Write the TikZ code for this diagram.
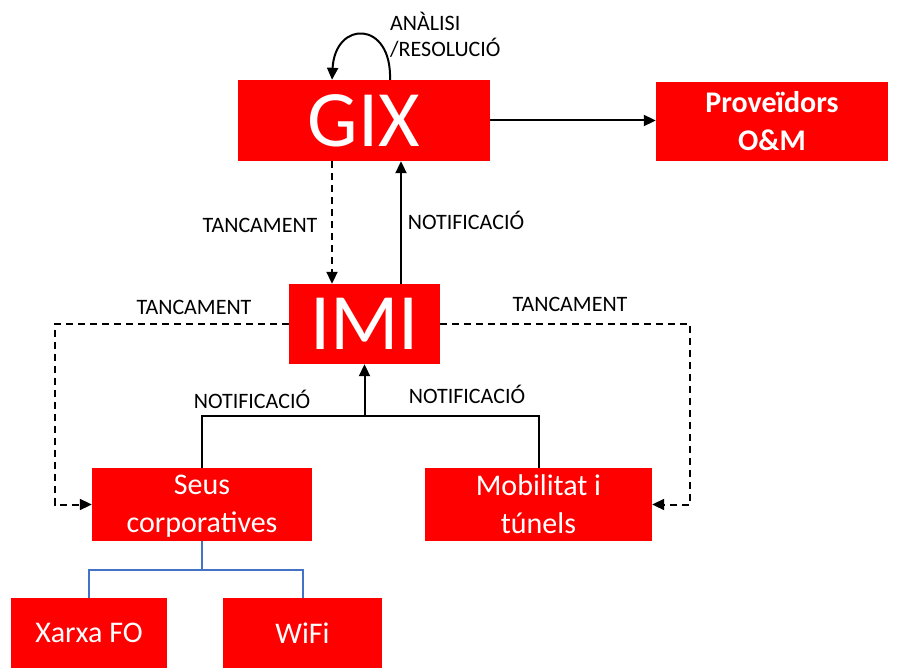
\documentclass[tikz,border=0pt]{standalone}
\usepackage{fontspec}
\setmainfont{Carlito}
\usetikzlibrary{arrows.meta}
\definecolor{boxred}{RGB}{255,0,0}
\definecolor{treeblue}{RGB}{68,114,196}

\begin{document}
\begin{tikzpicture}[x=1pt,y=-1pt,>={Triangle[length=12pt,width=11pt]},
    box/.style={fill=boxred,text=white,inner sep=0pt,align=center,font=\fontsize{30}{38}\selectfont},
    bigbox/.style={box,font=\fontsize{80}{80}\selectfont},
    lbl/.style={font=\fontsize{22}{26}\selectfont,inner sep=0pt},
    arr/.style={->,line width=2pt},
    dasharr/.style={arr,dash pattern=on 7pt off 5pt},
    tree/.style={draw=treeblue,line width=2pt}]
    \useasboundingbox (0,0) rectangle (899,668);
    \node[bigbox,minimum width=252pt,minimum height=81pt] (gix) at (364,120.5) {GIX};
    \node[box,minimum width=232pt,minimum height=79pt,font=\fontsize{30}{38}\selectfont\bfseries] (prov) at (772,121.5) {Proveïdors\\O\&M};
    \node[bigbox,minimum width=151pt,minimum height=80pt] (imi) at (364.5,324) {IMI};
    \node[box,minimum width=220pt,minimum height=73pt] (seus) at (202,504.5) {\raisebox{-2pt}[\height][\depth]{Seus}\\\raisebox{-2pt}[\height][\depth]{corporatives}};
    \node[box,minimum width=227pt,minimum height=73pt] (mob) at (538.5,504.5) {Mobilitat i\\túnels};
    \node[box,minimum width=156pt,minimum height=70pt] (xarxa) at (89,633) {Xarxa FO};
    \node[box,minimum width=159pt,minimum height=70pt] (wifi) at (302.5,633) {WiFi};
    \coordinate (join) at (364.5,416);
    % labels
    \node[lbl,anchor=west,align=left] (analisi) at (390,35) {ANÀLISI\\/RESOLUCIÓ};
    \node[lbl] (tancA) at (260,225) {TANCAMENT};
    \node[lbl] (notifA) at (466,220) {NOTIFICACIÓ};
    \node[lbl] (tancB) at (194,307) {TANCAMENT};
    \node[lbl] (tancC) at (570,304) {TANCAMENT};
    \node[lbl] (notifB) at (252,399) {NOTIFICACIÓ};
    \node[lbl] (notifC) at (467,394) {NOTIFICACIÓ};
    % connectors
    \draw[arr] ([xshift=26pt]gix.north) .. controls ([xshift=28pt]gix.north |- 0,20) and ([xshift=-29pt]gix.north |- 0,20) .. ([xshift=-32pt]gix.north);
    \draw[arr] (gix.east) -- (prov.west |- gix.east);
    \draw[dasharr] ([xshift=-32.5pt]gix.south -| imi.north) -- ([xshift=-32.5pt]imi.north);
    \draw[arr] ([xshift=36.5pt]imi.north) -- ([xshift=36.5pt]imi.north |- gix.south);
    \draw[dasharr] (imi.west) -- ++(-234,0) |- (seus.west);
    \draw[dasharr] (imi.east) -- ++(250,0) |- (mob.east);
    \draw[line width=2pt] (seus.north) |- (join);
    \draw[line width=2pt] (mob.north) |- (join);
    \draw[arr] (join) -- (imi.south);
    \draw[tree] (seus.south) -- ++(0,29) -| (xarxa.north);
    \draw[tree] (seus.south) -- ++(0,29) -| (wifi.north);
\end{tikzpicture}
\end{document}
